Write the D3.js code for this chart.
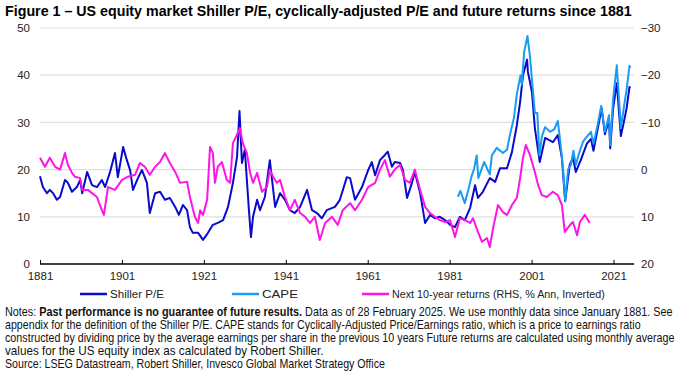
<!DOCTYPE html>
<html>
<head>
<meta charset="utf-8">
<script src="https://cdn.jsdelivr.net/npm/d3@7"></script>
<style>
  body { margin: 0; background: #fff; }
  svg { display: block; font-family: "Liberation Sans", Arial, sans-serif; }
  .tick text { fill: #222; }
</style>
</head>
<body>
<svg width="681" height="375"></svg>
<script>
// series values: [year, value]
var shillerPE = [
  [1881.0, 18.6], [1881.7, 16.3], [1882.7, 15], [1883.4, 15.7], [1884.2, 15], [1885.1, 13.6],
  [1885.9, 14.2], [1887.1, 17.8], [1887.8, 17.2], [1888.8, 15.3], [1890.0, 16.3], [1890.8, 17.8],
  [1891.3, 15], [1892.5, 19.5], [1893.7, 16.7], [1894.9, 16.3], [1896.1, 17.8], [1896.9, 16.3],
  [1898.1, 19.5], [1899.3, 23.5], [1900.0, 18.4], [1901.3, 24.8], [1902.2, 22], [1903.0, 19.9],
  [1903.7, 15.7], [1904.9, 18.2], [1905.9, 19.9], [1907.1, 17.2], [1907.8, 10.8], [1909.1, 15],
  [1910.3, 15.3], [1911.5, 13.6], [1912.7, 14], [1914.0, 12.1], [1914.9, 10.4], [1915.9, 12.5],
  [1916.9, 11.4], [1917.6, 7.8], [1918.3, 6.6], [1919.6, 6.6], [1920.8, 5.1], [1922.0, 6.6],
  [1923.2, 8.3], [1924.4, 8.7], [1925.7, 9.3], [1926.9, 12.1], [1928.1, 17.2], [1929.1, 22.7],
  [1929.7, 32.4], [1930.3, 21.4], [1931.0, 24.2], [1931.5, 17.8], [1932.0, 11.4], [1932.5, 5.7],
  [1933.0, 10], [1934.0, 13.6], [1934.7, 11.4], [1935.9, 14.2], [1937.1, 22], [1938.4, 12.1],
  [1939.6, 15], [1940.8, 13.6], [1942.0, 11.4], [1943.2, 10.8], [1944.5, 12.1], [1946.2, 15.7],
  [1947.4, 11.4], [1948.6, 10.8], [1949.8, 9.7], [1951.0, 11.4], [1953.0, 12.1], [1954.2, 13.6],
  [1955.9, 18.4], [1956.7, 18.2], [1957.9, 13.6], [1959.6, 16.3], [1961.1, 19.9], [1962.0, 21.6],
  [1962.8, 18.8], [1964.0, 22], [1965.2, 23.1], [1965.9, 23.8], [1966.9, 20.6], [1967.6, 21.6],
  [1968.9, 21.4], [1969.6, 19.9], [1970.6, 14], [1971.8, 17.2], [1972.5, 19.5], [1973.8, 15],
  [1975.0, 8.7], [1976.2, 10.4], [1977.4, 9.7], [1978.6, 10], [1979.9, 9.3], [1981.1, 8.3],
  [1982.3, 7.8], [1983.5, 10], [1984.7, 9.3], [1986.0, 11.9], [1987.2, 16.7], [1987.9, 14],
  [1989.1, 15.3], [1990.8, 18.2], [1992.1, 17.4], [1993.3, 20.3], [1995.0, 20.3], [1996.2, 23.7],
  [1997.4, 29.4], [1998.2, 34.3], [1998.9, 40], [1999.9, 43.3], [2000.1, 40.7], [2001.1, 36.4],
  [2001.8, 28.8], [2003.0, 21.6], [2004.3, 26.7], [2006.2, 25.8], [2007.4, 27.3], [2008.4, 22.5],
  [2009.2, 13.3], [2010.3, 21], [2011.1, 22.5], [2011.8, 19.5], [2013.0, 22], [2014.5, 25.5],
  [2015.5, 26.5], [2016.1, 24], [2017.0, 28], [2018.1, 33], [2018.9, 27.5], [2019.9, 30.5],
  [2020.2, 24.5], [2020.9, 33], [2021.8, 38.3], [2022.8, 27.1], [2023.5, 30], [2024.2, 33],
  [2024.9, 37.5], [2025.1, 37.3]
];

var cape = [
  [1983.0, 14.2], [1983.6, 15.5], [1984.7, 12.9], [1985.5, 15.5], [1986.3, 18.4], [1987.0, 20.3],
  [1987.6, 23], [1988.0, 18.2], [1989.4, 21.6], [1990.8, 19], [1991.3, 23], [1992.5, 24.6],
  [1994.0, 23.5], [1995.0, 24.2], [1995.7, 27.3], [1996.7, 31], [1997.4, 36], [1998.3, 40],
  [1998.6, 38], [1999.2, 45], [2000.0, 48.3], [2000.6, 44], [2001.2, 38], [2001.8, 32],
  [2002.4, 32], [2002.9, 23], [2003.5, 27], [2004.3, 29], [2005.5, 28], [2006.5, 28.5],
  [2007.4, 30.3], [2008.0, 26], [2008.7, 20], [2009.2, 13.3], [2009.9, 20], [2010.6, 21],
  [2011.2, 24], [2011.8, 21], [2012.6, 23.5], [2013.6, 26], [2014.5, 27], [2015.5, 28],
  [2016.1, 25.5], [2017.0, 29], [2018.0, 33.5], [2018.9, 28], [2019.9, 31.5], [2020.2, 25.2],
  [2020.9, 35], [2021.8, 42.1], [2022.8, 28.8], [2023.5, 33], [2024.2, 37], [2024.9, 42],
  [2025.1, 41.5]
];

var next10yr = [
  [1881.0, -2.5], [1882.2, -0.6], [1883.4, -2.5], [1884.7, -0.6], [1885.9, 0], [1887.1, -3.5],
  [1887.8, -1], [1888.8, 0.7], [1889.5, 1.5], [1890.8, 1.8], [1891.3, 4.3], [1892.7, 4.3],
  [1894.9, 5.8], [1896.1, 8.6], [1896.6, 9.6], [1897.6, 3.7], [1899.3, 4.3], [1901.0, 2.2],
  [1902.5, 1.5], [1904.2, 1.1], [1905.4, -1.4], [1906.6, -0.6], [1907.8, 1.1], [1909.1, -0.6],
  [1910.3, -1.6], [1911.5, -3.5], [1912.7, -1.4], [1914.0, 0.5], [1915.2, 2.8], [1916.9, 2.6],
  [1917.6, 5.8], [1918.8, 10], [1919.6, 11.3], [1920.1, 8.6], [1920.8, 9.6], [1921.8, 6.4],
  [1922.5, -4.8], [1923.2, -3.5], [1923.7, 2.8], [1924.4, -0.6], [1925.4, -1.6], [1926.6, 2.2],
  [1927.4, 2.8], [1928.1, -5.6], [1929.3, -7.8], [1929.8, -8.8], [1930.5, -5.6], [1931.5, -3.5],
  [1932.3, 0.7], [1933.0, 2.8], [1934.0, 0.7], [1935.2, 4.7], [1936.4, 3.7], [1937.1, 0],
  [1937.9, 1.5], [1938.8, 2.8], [1939.6, 2.2], [1940.8, 5.8], [1942.0, 8.6], [1943.2, 6.4],
  [1944.5, 9.2], [1945.7, 10], [1946.9, 11.3], [1948.1, 10], [1949.3, 14.9], [1950.6, 11.3],
  [1952.3, 10], [1953.7, 11.7], [1954.9, 8.6], [1956.7, 7.1], [1957.9, 8.6], [1959.6, 6.4],
  [1961.1, 3.7], [1962.8, 2.8], [1964.0, 0], [1965.2, -2], [1966.4, 1.5], [1967.6, 0],
  [1968.9, -1], [1970.1, 2.2], [1971.3, 2.8], [1972.5, 0], [1973.8, 4.3], [1975.0, 7.9],
  [1976.2, 9.2], [1977.4, 10], [1978.6, 10.7], [1979.9, 11.1], [1981.1, 10.7], [1982.3, 14.3],
  [1983.5, 10.3], [1984.7, 10.7], [1986.0, 11.3], [1986.7, 10.3], [1987.9, 13.2], [1988.9, 15.3],
  [1990.1, 14.5], [1990.8, 16.4], [1991.6, 12.4], [1992.8, 7.5], [1994.0, 9], [1995.0, 9.6],
  [1996.2, 7.5], [1997.4, 6], [1998.2, 1.8], [1998.9, -2.5], [1999.6, -5.2], [2000.6, -3.1],
  [2001.8, 0.5], [2002.6, 3.3], [2003.5, 5.4], [2004.7, 5.8], [2006.2, 4.7], [2007.4, 5.4],
  [2008.4, 7.5], [2009.1, 13.2], [2010.4, 11.7], [2011.1, 11.1], [2012.1, 13.9], [2012.8, 11.1],
  [2014.0, 9.6], [2015.2, 11.3]
];

var xTicks = [1881, 1901, 1921, 1941, 1961, 1981, 2001, 2021];
var leftTicks = [0, 10, 20, 30, 40, 50];
var rightTicks = [-30, -20, -10, 0, 10, 20];
var legendLabels = ["Shiller P/E", "CAPE", "Next 10-year returns (RHS, % Ann, Inverted)"];
var colors = ["#0a0acc", "#1a9cf2", "#ff14e6"];

var svg = d3.select("svg");
var plot = { left: 40, right: 634, top: 28, bottom: 264 };

var x = d3.scaleLinear().domain([1881, 2026]).range([plot.left, plot.right]);
var y = d3.scaleLinear().domain([0, 50]).range([plot.bottom, plot.top]);
var y2 = d3.scaleLinear().domain([-30, 20]).range([plot.top, plot.bottom]);

// no Arial Narrow here, so squeeze a regular face horizontally to a target width
function fitText(g, text, width) {
  var w = text.node().getComputedTextLength();
  var t = g.attr("data-t");
  g.attr("transform", t + " scale(" + (width / w) + ",1)");
}

// title
var titleG = svg.append("g").attr("data-t", "translate(5,16)");
var title = titleG.append("text")
  .attr("font-size", 14.5).attr("font-weight", "bold").attr("fill", "#000")
  .text("Figure 1 \u2013 US equity market Shiller P/E, cyclically-adjusted P/E and future returns since 1881");
fitText(titleG, title, 627);

// gridlines
svg.append("g")
  .selectAll("line")
  .data(leftTicks.filter(function (d) { return d > 0; }))
  .join("line")
  .attr("x1", plot.left).attr("x2", plot.right)
  .attr("y1", function (d) { return y(d); }).attr("y2", function (d) { return y(d); })
  .attr("stroke", "#e0e0e0").attr("stroke-width", 1.2);

// left axis
var gl = svg.append("g")
  .attr("transform", "translate(" + (plot.left - 10) + ",0)")
  .call(d3.axisLeft(y).tickValues(leftTicks).tickSize(0).tickPadding(0));
gl.select(".domain").remove();
gl.selectAll("text").attr("font-size", 11.5);

// right axis
var gr = svg.append("g")
  .attr("transform", "translate(" + (plot.right + 7) + ",0)")
  .call(d3.axisRight(y2).tickValues(rightTicks).tickSize(0).tickPadding(0));
gr.select(".domain").remove();
gr.selectAll("text").attr("font-size", 11.5);

// bottom axis
var gx = svg.append("g")
  .attr("transform", "translate(0," + plot.bottom + ")")
  .call(d3.axisBottom(x).tickValues(xTicks).tickFormat(d3.format("d")).tickSize(-4).tickPadding(8));
gx.select(".domain").attr("d", "M" + plot.left + ",0H" + plot.right).attr("stroke", "#000").attr("stroke-width", 1.3);
gx.selectAll(".tick line").attr("stroke", "#000");
gx.selectAll("text").attr("font-size", 11.5);

// lines
var line = d3.line()
  .x(function (d) { return x(d[0]); })
  .y(function (d) { return y(d[1]); });
var line2 = d3.line()
  .x(function (d) { return x(d[0]); })
  .y(function (d) { return y2(d[1]); });

svg.append("path").datum(shillerPE).attr("d", line)
  .attr("fill", "none").attr("stroke", colors[0]).attr("stroke-width", 2).attr("stroke-linejoin", "round");
svg.append("path").datum(cape).attr("d", line)
  .attr("fill", "none").attr("stroke", colors[1]).attr("stroke-width", 2).attr("stroke-linejoin", "round");
svg.append("path").datum(next10yr).attr("d", line2)
  .attr("fill", "none").attr("stroke", colors[2]).attr("stroke-width", 2).attr("stroke-linejoin", "round");

// legend
var legendX = [80, 232, 362];
var legendW = [54, 36, 213];
legendLabels.forEach(function (label, i) {
  svg.append("line")
    .attr("x1", legendX[i]).attr("x2", legendX[i] + 27).attr("y1", 294).attr("y2", 294)
    .attr("stroke", colors[i]).attr("stroke-width", 2.5);
  var g = svg.append("g").attr("data-t", "translate(" + (legendX[i] + 30) + ",298)");
  var t = g.append("text").attr("font-size", 11.5).attr("fill", "#222").text(label);
  fitText(g, t, legendW[i]);
});

// notes
var notes = [
  [["Notes: ", false], ["Past performance is no guarantee of future results.", true], [" Data as of 28 February 2025. We use monthly data since January 1881. See", false]],
  [["appendix for the definition of the Shiller P/E. CAPE stands for Cyclically-Adjusted Price/Earnings ratio, which is a price to earnings ratio", false]],
  [["constructed by dividing price by the average earnings per share in the previous 10 years Future returns are calculated using monthly average", false]],
  [["values for the US equity index as calculated by Robert Shiller.", false]],
  [["Source: LSEG Datastream, Robert Shiller, Invesco Global Market Strategy Office", false]]
];
var noteWidths = [668, 636, 670, 319, 380];
notes.forEach(function (row, i) {
  var g = svg.append("g").attr("data-t", "translate(5," + (316 + i * 13) + ")");
  var t = g.append("text").attr("font-size", 12).attr("fill", "#111");
  row.forEach(function (seg) {
    t.append("tspan").attr("font-weight", seg[1] ? "bold" : "normal").text(seg[0]);
  });
  fitText(g, t, noteWidths[i]);
});
</script>
</body>
</html>
